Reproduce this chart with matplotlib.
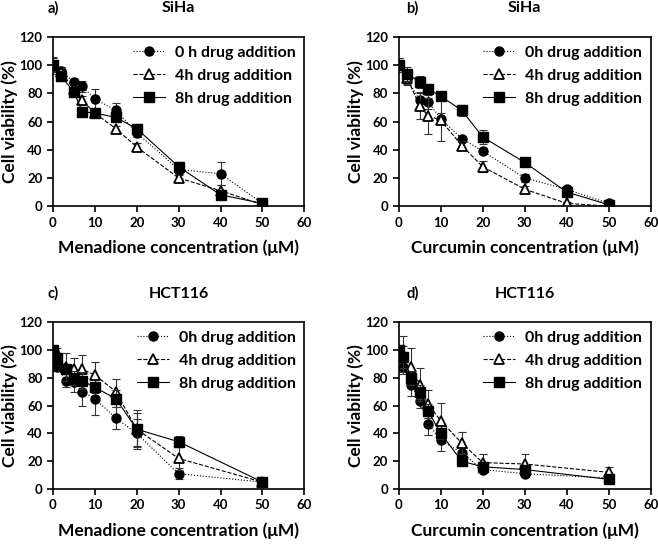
import numpy as np
import matplotlib.pyplot as plt
from matplotlib.lines import Line2D

plt.rcParams['font.family'] = ['Lato', 'DejaVu Sans']
plt.rcParams['font.weight'] = 'bold'

# concentrations (uM)
conc_siha = [0, 2, 5, 7, 10, 15, 20, 30, 40, 50]
conc_hct = [0, 1, 3, 5, 7, 10, 15, 20, 30, 50]

# a) SiHa, menadione
a_0h = [100, 96, 88, 85, 76, 68, 52, 26, 23, 2]
a_4h = [100, 95, 83, 75, 66, 55, 42, 20, 11, 1]
a_8h = [100, 92, 81, 67, 66, 63, 55, 28, 8, 2]
a_0h_err = [5, 3, 2, 4, 7, 5, 3, 3, 8, 1]
a_4h_err = [4, 3, 3, 3, 3, 2, 3, 2, 4, 1]
a_8h_err = [6, 3, 2, 2, 2, 2, 3, 3, 2, 1]

# b) SiHa, curcumin
b_0h = [100, 90, 75, 74, 62, 48, 39, 20, 12, 2]
b_4h = [100, 91, 71, 64, 61, 43, 28, 12, 2, 0]
b_8h = [100, 94, 88, 83, 78, 68, 49, 31, 10, 1]
b_0h_err = [5, 4, 6, 5, 4, 2, 2, 3, 2, 1]
b_4h_err = [5, 4, 9, 13, 15, 3, 4, 2, 1, 1]
b_8h_err = [3, 5, 4, 3, 2, 4, 5, 2, 2, 1]

# c) HCT116, menadione
c_0h = [100, 88, 78, 77, 70, 65, 51, 40, 11, 5]
c_4h = [100, 98, 88, 86, 86, 82, 70, 43, 22, 5]
c_8h = [100, 94, 86, 80, 78, 73, 65, 43, 34, 5]
c_0h_err = [2, 3, 5, 7, 10, 12, 8, 10, 4, 1]
c_4h_err = [2, 3, 10, 8, 10, 9, 9, 14, 8, 1]
c_8h_err = [2, 3, 3, 5, 6, 4, 6, 12, 4, 1]

# d) HCT116, curcumin
d_0h = [100, 88, 75, 63, 47, 35, 26, 14, 11, 8]
d_4h = [100, 97, 88, 75, 61, 49, 33, 19, 18, 12]
d_8h = [100, 95, 80, 70, 56, 40, 20, 16, 14, 7]
d_0h_err = [3, 5, 8, 5, 8, 8, 2, 2, 2, 1]
d_4h_err = [3, 13, 13, 12, 10, 13, 8, 6, 7, 4]
d_8h_err = [3, 8, 5, 5, 5, 4, 3, 3, 2, 1]

fig = plt.figure(figsize=(6.58, 5.44), dpi=100)

panels = [
    ([0.0805, 0.621, 0.382, 0.311], 'a)', 'SiHa', 'Menadione', conc_siha,
     (a_0h, a_0h_err), (a_4h, a_4h_err), (a_8h, a_8h_err), '0 h drug addition'),
    ([0.606, 0.621, 0.383, 0.311], 'b)', 'SiHa', 'Curcumin', conc_siha,
     (b_0h, b_0h_err), (b_4h, b_4h_err), (b_8h, b_8h_err), '0h drug addition'),
    ([0.0805, 0.101, 0.382, 0.307], 'c)', 'HCT116', 'Menadione', conc_hct,
     (c_0h, c_0h_err), (c_4h, c_4h_err), (c_8h, c_8h_err), '0h drug addition'),
    ([0.606, 0.101, 0.383, 0.307], 'd)', 'HCT116', 'Curcumin', conc_hct,
     (d_0h, d_0h_err), (d_4h, d_4h_err), (d_8h, d_8h_err), '0h drug addition'),
]

styles = [
    dict(marker='o', linestyle=':', markerfacecolor='black'),
    dict(marker='^', linestyle='--', markerfacecolor='white', markeredgewidth=1.3),
    dict(marker='s', linestyle='-', markerfacecolor='black'),
]

for pos, letter, cell, drug, x, s0, s4, s8, lab0 in panels:
    ax = fig.add_axes(pos)
    labels = [lab0, '4h drug addition', '8h drug addition']
    handles = []
    for (y, err), st, lab in zip([s0, s4, s8], styles, labels):
        ax.errorbar(x, y, yerr=err, fmt='none', ecolor='#333333',
                    elinewidth=0.8, capsize=3, capthick=0.8)
        ln, = ax.plot(x, y, color='black', markeredgecolor='black',
                      markersize=6.5, linewidth=0.8, label=lab, **st)
        handles.append(ln)

    ax.set_xlim(0, 60)
    ax.set_ylim(0, 120)
    ax.set_xticks(range(0, 61, 10))
    ax.set_yticks(range(0, 121, 20))
    ax.tick_params(labelsize=9.5, width=1.2, length=4, direction='out')
    for lbl in ax.get_xticklabels() + ax.get_yticklabels():
        lbl.set_fontweight('bold')
    for sp in ax.spines.values():
        sp.set_linewidth(1.2)

    ax.set_ylabel('Cell viability (%)', fontsize=12.5, fontweight='bold', labelpad=1)
    ax.set_xlabel(drug + ' concentration (\u03bcM)', fontsize=12.5,
                  fontweight='bold', labelpad=8)
    ax.text(0.5, 1.17, cell, transform=ax.transAxes, ha='center', va='center',
            fontsize=11.5, fontweight='bold')
    ax.text(-0.02 if letter in ('a)', 'c)') else 0.03, 1.17, letter,
            transform=ax.transAxes, ha='left', va='center',
            fontsize=10.5, fontweight='bold')

    leg = ax.legend(handles=handles, loc='upper right', frameon=False,
                    fontsize=11.5, handlelength=2.0, handletextpad=0.6,
                    labelspacing=0.55, borderaxespad=0.15)
    for t in leg.get_texts():
        t.set_fontweight('bold')

fig.savefig('out.png', dpi=100)
